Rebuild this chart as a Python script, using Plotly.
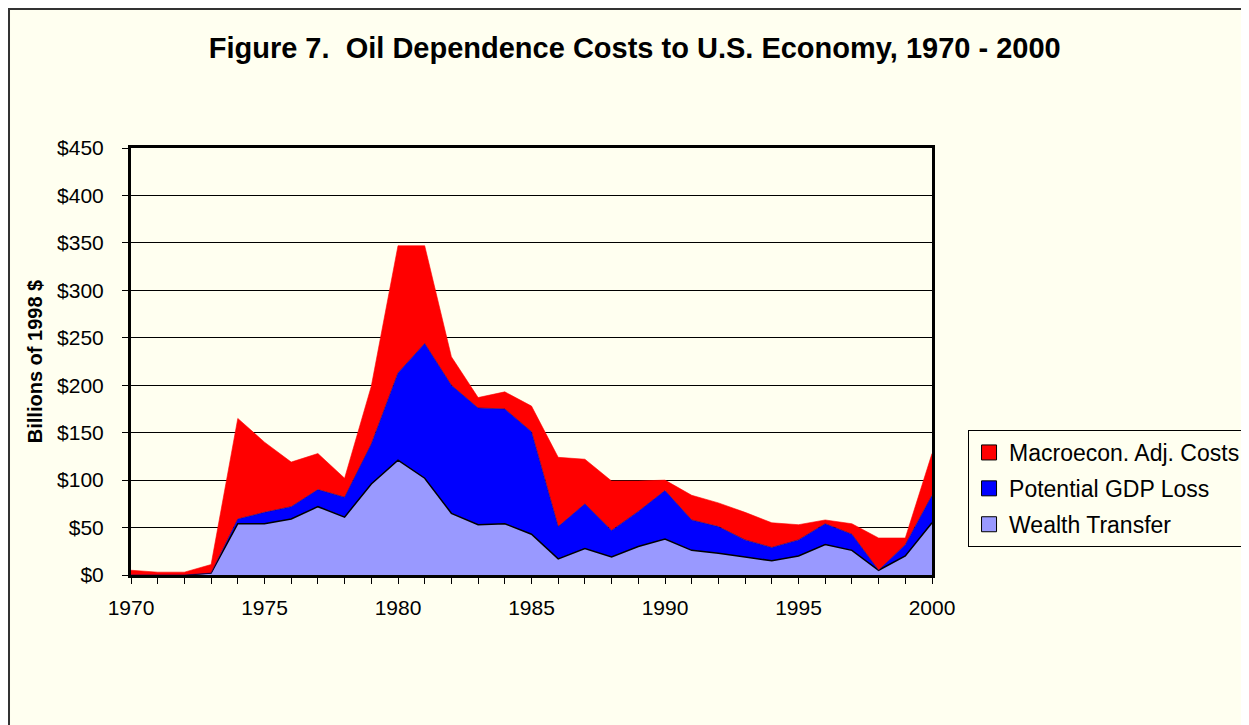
"""Oil dependence costs to the U.S. economy, stacked area chart."""
import plotly.graph_objects as go

years = list(range(1970, 2001))

wealth_transfer = [0, 0, 0, 2, 54, 54, 59, 72, 61, 96, 121, 102, 65, 53, 54, 43,
                   17, 28, 19, 30, 38, 26, 23, 19, 15, 20, 32, 26, 5, 20, 55]
gdp_loss = [0, 0, 0, 0, 5, 12, 13, 18, 21, 42, 92, 142, 135, 123, 121, 108,
            34, 47, 28, 37, 51, 32, 28, 18, 14, 17, 22, 17, 0, 12, 29]
macro_costs = [5, 3, 3, 9, 106, 74, 47, 38, 20, 61, 134, 103, 30, 11, 18, 27,
               73, 47, 52, 32, 11, 26, 25, 29, 26, 16, 4, 11, 34, 7, 44]

series_names = ["Wealth Transfer", "Potential GDP Loss", "Macroecon. Adj. Costs"]
series_colors = ["#9999FF", "#0000FF", "#FF0000"]

y_ticks = list(range(0, 451, 50))
y_labels = [f"${v}" for v in y_ticks]

CREAM = "#FFFFF0"
FONT = "Arial, Liberation Sans, sans-serif"

fig = go.Figure()

# stacked areas (legend handled by the square-marker entries below)
line_styles = [dict(color="black", width=1.5),
               dict(color="#000080", width=0.6),
               dict(color="#FF0000", width=0.6)]
for name, values, color, line in zip(series_names,
                                     [wealth_transfer, gdp_loss, macro_costs],
                                     series_colors, line_styles):
    fig.add_trace(go.Scatter(
        x=years, y=values, name=name,
        stackgroup="one", mode="lines",
        line=line, fillcolor=color,
        showlegend=False, hoverinfo="x+y+name",
    ))

# legend entries with square swatches, top series first
for name, color in reversed(list(zip(series_names, series_colors))):
    fig.add_trace(go.Scatter(
        x=[None], y=[None], name=name, mode="markers",
        legendgroup=name,
        marker=dict(symbol="square", size=15, color=color,
                    line=dict(color="black", width=1)),
    ))

# outer chart border
fig.add_shape(
    type="rect", xref="paper", yref="paper",
    x0=-0.1523, x1=1.6, y0=-0.6, y1=1.3255,
    line=dict(color="#333333", width=2),
    fillcolor=CREAM, layer="below",
)

fig.update_layout(
    width=1241, height=717,
    margin=dict(l=123, r=317, t=140, b=150, autoexpand=False),
    paper_bgcolor=CREAM,
    plot_bgcolor=CREAM,
    font=dict(family=FONT, size=21, color="black"),
    title=dict(
        text="<b>Figure 7.  Oil Dependence Costs to U.S. Economy, 1970 - 2000</b>",
        x=0.505, xanchor="center", y=0.9445, yanchor="middle",
        font=dict(family=FONT, size=29, color="black"),
    ),
    showlegend=True,
    legend=dict(
        x=1.045, xanchor="left", y=0.3396, yanchor="top",
        bgcolor=CREAM, bordercolor="black", borderwidth=1,
        font=dict(family=FONT, size=23, color="black"),
        traceorder="grouped", tracegroupgap=3,
        itemwidth=30,
    ),
    xaxis=dict(
        range=[1970, 2000], tickmode="linear", tick0=1970, dtick=5,
        ticks="outside", ticklen=6, tickcolor="black",
        minor=dict(dtick=1, ticks="outside", ticklen=6, tickcolor="black"),
        showgrid=False, zeroline=False,
        showline=True, linecolor="black", linewidth=3, mirror=True,
        tickfont=dict(family=FONT, size=21),
        ticklabelstandoff=6,
    ),
    yaxis=dict(
        range=[0, 450], tickvals=y_ticks, ticktext=y_labels,
        ticks="outside", ticklen=6, tickcolor="black",
        showgrid=True, gridcolor="black", gridwidth=1, zeroline=False,
        showline=True, linecolor="black", linewidth=3, mirror=True,
        tickfont=dict(family=FONT, size=21),
        ticklabelstandoff=14,
        title=dict(text="<b>Billions of 1998 $</b>", standoff=10,
                   font=dict(family=FONT, size=20)),
    ),
)

fig.write_html("out.html")
